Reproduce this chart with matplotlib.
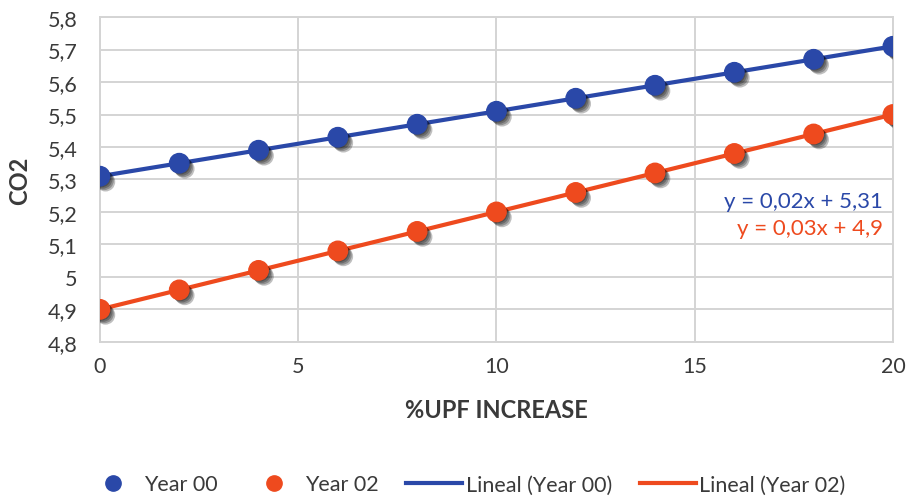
import matplotlib.pyplot as plt
import matplotlib.patheffects as pe
import numpy as np
from matplotlib.ticker import FuncFormatter, MultipleLocator
from matplotlib.lines import Line2D

plt.rcParams['font.family'] = ['Lato', 'DejaVu Sans']

upf = [0, 2, 4, 6, 8, 10, 12, 14, 16, 18, 20]
year00 = [5.31, 5.35, 5.39, 5.43, 5.47, 5.51, 5.55, 5.59, 5.63, 5.67, 5.71]
year02 = [4.90, 4.96, 5.02, 5.08, 5.14, 5.20, 5.26, 5.32, 5.38, 5.44, 5.50]
eq00 = "y = 0,02x + 5,31"
eq02 = "y = 0,03x + 4,9"

blue = '#2A48A8'
orange = '#EE4A1E'
grid_c = '#D4D4D4'
txt = '#3A3A3A'

fig = plt.figure(figsize=(9.12, 5.02), dpi=100)
ax = fig.add_axes([0.1096, 0.317, 0.8695, 0.647])

# soft blurred shadow built from a few offset layers
shadow = [pe.SimplePatchShadow(offset=(o, -o), shadow_rgbFace='black', alpha=0.25) for o in (1, 2, 3, 4)]
shadow.append(pe.Normal())

x = np.array(upf)
for ys, c in [(year00, blue), (year02, orange)]:
    k, b = np.polyfit(x, ys, 1)
    xx = np.array([0, 20])
    ax.plot(xx, k * xx + b, color=c, lw=3, zorder=3)
    ax.plot(x, ys, 'o', color=c, ms=14, zorder=4, path_effects=shadow)

ax.set_xlim(0, 20)
ax.set_ylim(4.8, 5.8)
ax.xaxis.set_major_locator(MultipleLocator(5))
ax.yaxis.set_major_locator(MultipleLocator(0.1))
fmt = FuncFormatter(lambda v, p: ('%g' % round(v, 2)).replace('.', ','))
ax.xaxis.set_major_formatter(fmt)
ax.yaxis.set_major_formatter(fmt)
ax.grid(True, color=grid_c, lw=1.4)
ax.set_axisbelow(True)
for s in ax.spines.values():
    s.set_color(grid_c)
    s.set_linewidth(1.4)
ax.tick_params(length=0, labelsize=15.5, colors=txt)
ax.tick_params(axis='y', pad=16)
ax.tick_params(axis='x', pad=10)

ax.set_xlabel('%UPF INCREASE', fontsize=17, fontweight='bold', color=txt, labelpad=16)
ax.set_ylabel('CO2', fontsize=17, fontweight='bold', color=txt, labelpad=12)

ax.text(19.75, 5.233, eq00, color=blue, fontsize=16, ha='right', va='center')
ax.text(19.75, 5.15, eq02, color=orange, fontsize=16, ha='right', va='center')

handles = [
    Line2D([], [], marker='o', ls='', color=blue, ms=11),
    Line2D([], [], marker='o', ls='', color=orange, ms=11),
    Line2D([], [], color=blue, lw=3),
    Line2D([], [], color=orange, lw=3),
]
labels = ['Year 00', 'Year 02', 'Lineal (Year 00)', 'Lineal (Year 02)']
fig.legend(handles, labels, loc='center', bbox_to_anchor=(0.51, 0.033), ncol=4, frameon=False,
           fontsize=15.5, handlelength=2.6, handletextpad=0.15, columnspacing=1.3, labelcolor=txt)

fig.savefig('out.png', dpi=100)
